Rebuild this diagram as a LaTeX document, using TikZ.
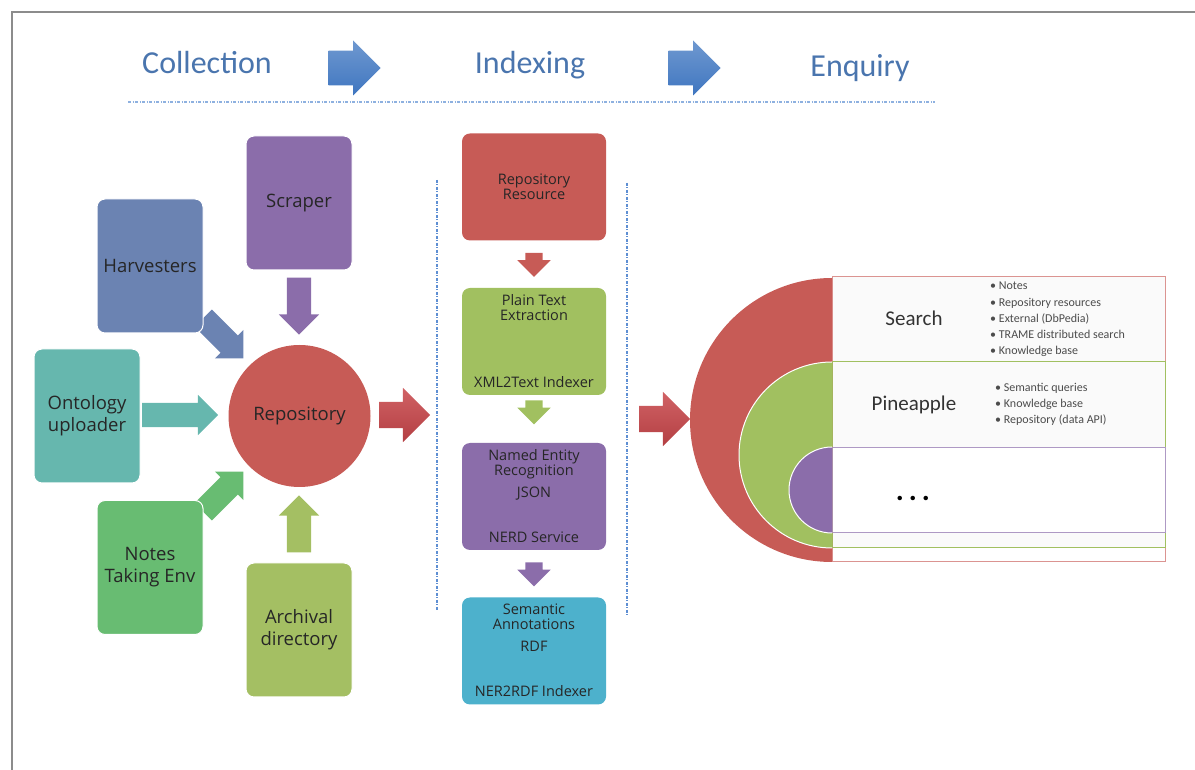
\documentclass[tikz,border=0pt]{standalone}
\usepackage{fontspec}
\setmainfont{Carlito}
\newfontfamily\boxfont{Open Sans}
\usetikzlibrary{shapes.arrows,positioning}

\definecolor{hdrblue}{HTML}{4A75AE}
\definecolor{arrblue}{HTML}{3F76C0}
\definecolor{dotblue}{HTML}{5E8FD3}
\definecolor{txtgray}{HTML}{262626}
\definecolor{repored}{HTML}{C75B56}
\definecolor{harvblue}{HTML}{6B83B2}
\definecolor{scrpurple}{HTML}{8B6DAA}
\definecolor{ontoteal}{HTML}{66B7AE}
\definecolor{notegreen}{HTML}{68BC72}
\definecolor{archolive}{HTML}{A4BF63}
\definecolor{idxgreen}{HTML}{A1C060}
\definecolor{idxteal}{HTML}{4DB1CC}
\definecolor{bigred}{HTML}{C8464A}

\begin{document}
\begin{tikzpicture}[
    x=1pt, y=1pt,
    box/.style={rounded corners=8pt, minimum width=106pt, minimum height=134pt,
      align=center, text=txtgray, draw=white, line width=1pt,
      font=\boxfont\fontsize{18.5}{22}\selectfont},
    stagebox/.style={rounded corners=8pt, minimum width=144pt, minimum height=107pt,
      align=center, text=txtgray, font=\boxfont\fontsize{14.5}{15}\selectfont},
    stagetxt/.style={inner sep=0pt, align=center, text=txtgray,
      font=\boxfont\fontsize{14.5}{15}\selectfont},
    blockarr/.style={single arrow, inner xsep=0pt, inner ysep=12pt, outer sep=0pt,
      minimum height=57pt, minimum width=40pt, single arrow head extend=8pt},
    smallarr/.style={single arrow, inner xsep=0pt, inner ysep=8.5pt, outer sep=0pt,
      minimum height=24pt, minimum width=33pt, single arrow head extend=8pt,
      rotate=-90},
    bigarr/.style={single arrow, inner xsep=0pt, inner ysep=13pt, outer sep=0pt,
      minimum height=51pt, minimum width=54pt, single arrow head extend=14pt,
      top color=bigred!85!white, bottom color=bigred!90!black},
    toparr/.style={single arrow, inner xsep=0pt, inner ysep=17pt, outer sep=0pt,
      minimum height=52pt, minimum width=55pt, single arrow head extend=10pt,
      top color=arrblue!75!white, bottom color=arrblue},
    heading/.style={text=hdrblue, font=\fontsize{32}{34}\selectfont},
    dotline/.style={dotblue, line width=1.2pt, dash pattern=on 3pt off 1.5pt on 1pt off 1.5pt},
    bullets/.style={align=left, anchor=west, inner sep=0pt, text=black!70,
      font=\fontsize{12}{16.2}\selectfont}
  ]
  \useasboundingbox (0,0) rectangle (1195,769);
  % frame
  \draw[black!45, line width=2pt] (12,-20) -- (12,757) -- (1220,757);

  % heading
  \node[heading] (coll) at (207,706) {Collection};
  \node[heading] (indx) at (530,704) {Indexing};
  \node[heading] (enq) at (860,701) {Enquiry};
  \node[toparr] (ta1) at (346,701) {};
  \node[toparr] (ta2) at (686,701) {};
  \draw[dotline, dotblue!70!white] (128,667) -- (935,667);

  % collection: arrows first, boxes on top
  \node[blockarr, fill=harvblue, rotate=-45] (aharv) at (219,435) {};
  \node[blockarr, fill=scrpurple, rotate=-90] (ascr) at (299,469) {};
  \node[blockarr, fill=ontoteal, minimum height=76pt] (aonto) at (174,354) {};
  \node[blockarr, fill=notegreen, rotate=45] (anote) at (219,273) {};
  \node[blockarr, fill=archolive, rotate=90] (aarch) at (299,239) {};

  \node[box, fill=harvblue] (harv) at (150,503) {Harvesters};
  \node[box, fill=scrpurple] (scr) at (299,566) {Scraper};
  \node[box, fill=ontoteal] (onto) at (87,353) {Ontology\\uploader};
  \node[box, fill=notegreen] (note) at (150,201.5) {Notes\\Taking Env};
  \node[box, fill=archolive] (arch) at (299,139) {Archival\\directory};
  \node[circle, fill=repored, minimum size=142pt, text=txtgray,
    font=\boxfont\fontsize{18.5}{22}\selectfont] (repo) at (299.5,353) {Repository};

  \node[bigarr] (a1) at (398,354) {};

  % indexing
  \draw[dotline] (437,589) -- (437,159);
  \draw[dotline] (627,586) -- (627,154);

  \node[stagebox, fill=repored] (res) at (534,582) {Repository\\Resource};
  \node[stagebox, fill=idxgreen] (pte) at (534,427.5) {};
  \node[stagebox, fill=scrpurple] (ner) at (534,272.5) {};
  \node[stagebox, fill=idxteal] (sem) at (534,118) {};

  \node[stagetxt, anchor=north] (pteT) at ([yshift=-6pt]pte.north) {Plain Text\\Extraction};
  \node[stagetxt, anchor=south] (pteB) at ([yshift=7pt]pte.south) {XML2Text Indexer};
  \node[stagetxt, anchor=north] (nerT) at ([yshift=-6pt]ner.north) {Named Entity\\Recognition\\[7pt]JSON};
  \node[stagetxt, anchor=south] (nerB) at ([yshift=7pt]ner.south) {NERD Service};
  \node[stagetxt, anchor=north] (semT) at ([yshift=-6pt]sem.north) {Semantic\\Annotations\\[7pt]RDF};
  \node[stagetxt, anchor=south] (semB) at ([yshift=8pt]sem.south) {NER2RDF Indexer};

  \node[smallarr, fill=repored] (s1) at (534,508.5) {};
  \node[smallarr, fill=idxgreen] (s2) at (534,361) {};
  \node[smallarr, fill=scrpurple] (s3) at (534,199) {};

  \node[bigarr] (a2) at (658,350) {};

  % enquiry
  \draw[repored!65!white, fill=white, line width=1pt] (832,492) rectangle (1165,207);
  \fill[black!2] (832.5,491.5) rectangle (1164.5,407);
  \draw[idxgreen, fill=black!2, line width=1pt] (832,407) rectangle (1165,221);
  \draw[scrpurple!70!white, fill=white, line width=1pt] (832,321) rectangle (1165,236);

  \fill[repored] (832,491) arc[start angle=90, end angle=270, radius=142] -- cycle;
  \fill[idxgreen] (832,407) arc[start angle=90, end angle=270, radius=93] -- cycle;
  \draw[white, line width=1pt] (832,407) arc[start angle=90, end angle=270, radius=93];
  \fill[scrpurple] (832,322) arc[start angle=90, end angle=270, radius=43] -- cycle;
  \draw[white, line width=1pt] (832,322) arc[start angle=90, end angle=270, radius=43];

  \node[font=\fontsize{21}{24}\selectfont, text=black!80] (srch) at (914,451) {Search};
  \node[bullets] (srchL) at (990,449.5) {\textbullet\ Notes\\\textbullet\ Repository resources\\
    \textbullet\ External (DbPedia)\\\textbullet\ TRAME distributed search\\\textbullet\ Knowledge base};
  \node[font=\fontsize{21}{24}\selectfont, text=black!80] (pine) at (914,364) {Pineapple};
  \node[bullets] (pineL) at (995,364.5) {\textbullet\ Semantic queries\\\textbullet\ Knowledge base\\
    \textbullet\ Repository (data API)};
  \node[font=\fontsize{30}{30}\bfseries] (more) at (913,271) {.\,.\,.};
\end{tikzpicture}
\end{document}
